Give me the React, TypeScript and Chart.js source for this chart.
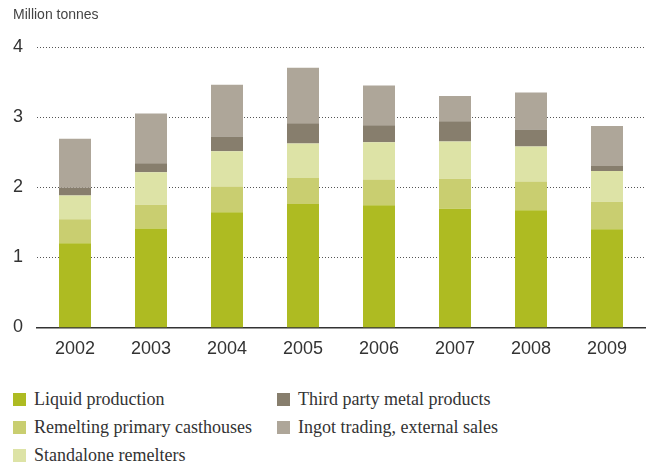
import React, { useEffect, useRef } from "react";
import { Chart, registerables } from "chart.js";

Chart.register(...registerables);

const years = ["2002", "2003", "2004", "2005", "2006", "2007", "2008", "2009"];
const liquidProduction = [1.2, 1.41, 1.64, 1.76, 1.74, 1.69, 1.67, 1.4];
const remeltingPrimary = [0.34, 0.34, 0.37, 0.37, 0.37, 0.43, 0.41, 0.39];
const standaloneRemelters = [0.34, 0.46, 0.5, 0.49, 0.53, 0.53, 0.5, 0.44];
const thirdPartyMetal = [0.11, 0.13, 0.21, 0.29, 0.24, 0.29, 0.24, 0.07];
const ingotTrading = [0.7, 0.71, 0.74, 0.79, 0.57, 0.36, 0.53, 0.57];
const seriesNames = [
  "Liquid production",
  "Remelting primary casthouses",
  "Standalone remelters",
  "Third party metal products",
  "Ingot trading, external sales",
];
const yTicks = [0, 1, 2, 3, 4];

const seriesColors = ["#aebb22", "#c9ce70", "#dde3a6", "#877e6d", "#aea699"];

const dottedGrid = {
  id: "dottedGrid",
  beforeDatasetsDraw(chart: any) {
    const { ctx, chartArea, scales } = chart;
    const y = scales.y;
    ctx.save();
    ctx.strokeStyle = "#555";
    ctx.lineWidth = 1;
    ctx.setLineDash([1, 2]);
    y.ticks.forEach((t: any) => {
      if (t.value === 0) return;
      const py = Math.round(y.getPixelForValue(t.value)) + 0.5;
      ctx.beginPath();
      ctx.moveTo(chartArea.left, py);
      ctx.lineTo(chartArea.right, py);
      ctx.stroke();
    });
    ctx.restore();
  },
};

export default function App() {
  const ref = useRef<HTMLCanvasElement | null>(null);

  useEffect(() => {
    if (!ref.current) return;
    const values = [liquidProduction, remeltingPrimary, standaloneRemelters, thirdPartyMetal, ingotTrading];
    const chart = new Chart(ref.current, {
      type: "bar",
      data: {
        labels: years,
        datasets: values.map((d, i) => ({
          label: seriesNames[i],
          data: d,
          backgroundColor: seriesColors[i],
          borderWidth: 0,
          categoryPercentage: 1,
          barPercentage: 0.421,
        })),
      },
      options: {
        animation: false,
        responsive: false,
        maintainAspectRatio: false,
        layout: { padding: { left: 13, right: 4, top: 0, bottom: 0 } },
        plugins: {
          legend: { display: false },
          tooltip: { enabled: false },
          title: {
            display: true,
            text: "Million tonnes",
            align: "start",
            color: "#444",
            font: { family: "'Liberation Sans', Arial, sans-serif", size: 14, weight: "normal" },
            padding: { top: 7, bottom: 23 },
          },
        },
        scales: {
          x: {
            stacked: true,
            grid: { display: false, drawTicks: false },
            border: { display: true, color: "#333", width: 1.5 },
            ticks: {
              color: "#333",
              padding: 11,
              font: { family: "'Liberation Sans', Arial, sans-serif", size: 18 },
            },
          },
          y: {
            stacked: true,
            min: yTicks[0],
            max: yTicks[yTicks.length - 1],
            afterBuildTicks: (axis: any) => {
              axis.ticks = yTicks.map((v) => ({ value: v }));
            },
            afterFit: (axis: any) => {
              axis.width = 24;
            },
            grid: { display: false, drawTicks: false },
            border: { display: false },
            ticks: {
              color: "#333",
              padding: 14,
              font: { family: "'Liberation Sans', Arial, sans-serif", size: 18 },
            },
          },
        },
      },
      plugins: [dottedGrid],
    });
    return () => chart.destroy();
  }, []);

  const legendCols = [
    [0, 1, 2],
    [3, 4],
  ];
  const colLeft = [13, 277];

  return (
    <div style={{ position: "absolute", left: 0, top: 0, width: 649, height: 464, background: "#fff" }}>
      <canvas ref={ref} width={649} height={371} style={{ position: "absolute", left: 0, top: 0 }} />
      {legendCols.map((col, ci) =>
        col.map((si, ri) => (
          <div
            key={si}
            style={{
              position: "absolute",
              left: colLeft[ci],
              top: 385 + ri * 28,
              height: 28,
              display: "flex",
              alignItems: "center",
              fontFamily: "'Liberation Serif', 'Times New Roman', serif",
              fontSize: 18,
              color: "#333",
              whiteSpace: "nowrap",
            }}
          >
            <span style={{ display: "inline-block", width: 13, height: 13, background: seriesColors[si], marginRight: 8 }} />
            <span>{seriesNames[si]}</span>
          </div>
        ))
      )}
    </div>
  );
}
